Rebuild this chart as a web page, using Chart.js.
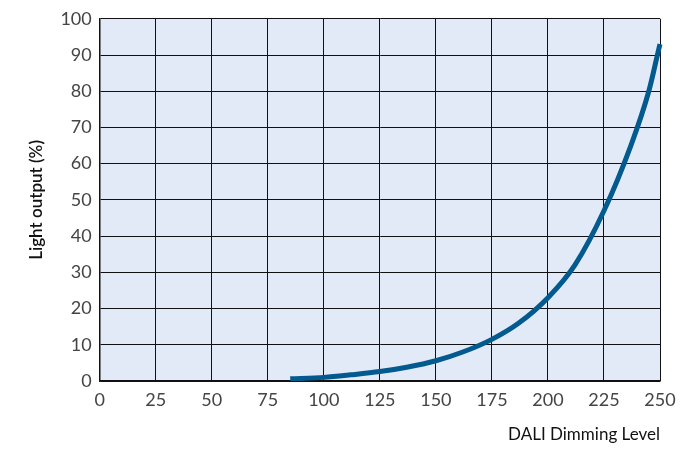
<!DOCTYPE html><html><head><script src="https://cdn.jsdelivr.net/npm/chart.js@4"></script>
<style>body{margin:0;background:#fff}#w{width:691px;height:449px}</style></head><body><div id="w"><canvas id="c"></canvas></div>
<script>
const dimLevel=[85,100,112,125,137,150,162,175,187,200,212,225,237,245,250,253,256];
const lightOut=[0.6,1,1.7,2.6,3.8,5.6,8,11.5,16,23,32,47,65,80,93,100,107];
const xTicks=[0,25,50,75,100,125,150,175,200,225,250];
const bgPlugin={id:'bg',beforeDraw(ch){const a=ch.chartArea,c=ch.ctx;c.save();c.fillStyle='#e3eaf7';c.fillRect(a.left,a.top,a.right-a.left,a.bottom-a.top);c.restore();}};
const font={family:'Lato, "Open Sans", sans-serif',size:18};
new Chart(document.getElementById('c'),{type:'scatter',
data:{datasets:[{data:dimLevel.map((x,i)=>({x,y:lightOut[i]})),showLine:true,borderColor:'#035a8e',borderWidth:5,pointRadius:0,tension:0.4,cubicInterpolationMode:'monotone',clip:{left:0,top:2,right:8,bottom:0}}]},
options:{responsive:true,maintainAspectRatio:false,animation:false,layout:{padding:{top:10,right:31,left:22,bottom:4}},
plugins:{legend:{display:false},tooltip:{enabled:false}},
scales:{x:{type:'linear',min:0,max:250,afterBuildTicks(s){s.ticks=xTicks.map(v=>({value:v}));},
grid:{color:'#111',lineWidth:1,drawTicks:false},border:{color:'#111',width:1.5},
ticks:{color:'#444',font,padding:8,maxRotation:0},
title:{display:true,text:'DALI Dimming Level',align:'end',color:'#111',font:{...font,size:17},padding:{top:6,bottom:0}}},
y:{min:0,max:100,ticks:{stepSize:10,color:'#444',font,padding:8},grid:{color:'#111',lineWidth:1,drawTicks:false},border:{color:'#111',width:1.5},
title:{display:true,text:'Light output (%)',color:'#111',font:{...font,size:17,weight:'600'},padding:{bottom:6}}}}},
plugins:[bgPlugin]});
</script></body></html>
